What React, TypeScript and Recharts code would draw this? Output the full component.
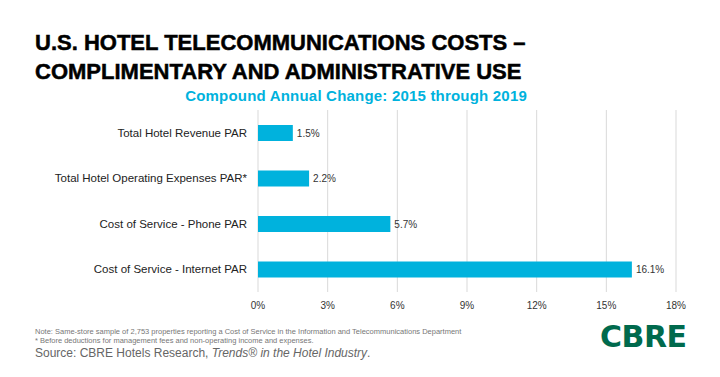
import { BarChart, Bar, XAxis, YAxis, CartesianGrid, LabelList } from "recharts";

const categories = [
  "Total Hotel Revenue PAR",
  "Total Hotel Operating Expenses PAR*",
  "Cost of Service - Phone PAR",
  "Cost  of Service - Internet PAR",
];
const changes = [1.5, 2.2, 5.7, 16.1];
const xTicks = [0, 3, 6, 9, 12, 15, 18];

const data = categories.map((name, i) => ({ name, value: changes[i] }));

const BAR_COLOR = "#00B2DD";
const font = "'Liberation Sans', Arial, sans-serif";

export default function App() {
  return (
    <div
      style={{
        position: "absolute",
        left: 0,
        top: 0,
        width: 720,
        height: 377,
        background: "#fff",
        fontFamily: font,
        overflow: "hidden",
      }}
    >
      <div
        style={{
          position: "absolute",
          left: 35,
          top: 28,
          fontSize: 22,
          fontWeight: 700,
          lineHeight: "29px",
          color: "#000",
          whiteSpace: "nowrap",
          letterSpacing: 0,
          WebkitTextStroke: "0.5px #000",
        }}
      >
        U.S. HOTEL TELECOMMUNICATIONS COSTS –<br />
        COMPLIMENTARY AND ADMINISTRATIVE USE
      </div>
      <div
        style={{
          position: "absolute",
          right: 193,
          top: 87,
          fontSize: 15,
          fontWeight: 700,
          color: "#00B2DD",
          whiteSpace: "nowrap",
          letterSpacing: 0.2,
        }}
      >
        Compound Annual Change: 2015 through 2019
      </div>

      <div style={{ position: "absolute", left: 0, top: 0 }}>
        <BarChart
          width={720}
          height={377}
          data={data}
          layout="vertical"
          margin={{ top: 110, right: 44, bottom: 63, left: 0 }}
        >
          <CartesianGrid horizontal={false} stroke="#D9D9D9" />
          <XAxis
            type="number"
            domain={[0, 18]}
            ticks={xTicks}
            tickFormatter={(v) => `${v}%`}
            axisLine={false}
            tickLine={false}
            height={22}
            tickMargin={4}
            tick={{ fontSize: 10, fill: "#333", fontFamily: font }}
          />
          <YAxis
            type="category"
            dataKey="name"
            width={258}
            axisLine={false}
            tickLine={false}
            tickMargin={5}
            tick={{ fontSize: 11.5, fill: "#222", fontFamily: font }}
          />
          <Bar dataKey="value" fill={BAR_COLOR} barSize={16} isAnimationActive={false}>
            <LabelList
              dataKey="value"
              position="right"
              offset={4}
              formatter={(v: number) => `${v.toFixed(1)}%`}
              style={{ fontSize: 10, fill: "#333", fontFamily: font }}
            />
          </Bar>
        </BarChart>
      </div>

      <div
        style={{
          position: "absolute",
          left: 35,
          top: 327,
          fontSize: 7.5,
          lineHeight: "9px",
          color: "#777",
          whiteSpace: "nowrap",
        }}
      >
        Note: Same-store sample of 2,753 properties reporting a Cost of Service in the Information and Telecommunications Department
        <br />* Before deductions for management fees and non-operating income and expenses.
      </div>
      <div
        style={{
          position: "absolute",
          left: 35,
          top: 346,
          fontSize: 12,
          color: "#666",
          whiteSpace: "nowrap",
        }}
      >
        Source: CBRE Hotels Research, <i>Trends® in the Hotel Industry</i>.
      </div>
      <div
        style={{
          position: "absolute",
          left: 600,
          top: 319,
          fontSize: 30,
          fontWeight: 700,
          color: "#006A4D",
          letterSpacing: -0.5,
          whiteSpace: "nowrap",
          fontFamily: "'DejaVu Sans', sans-serif",
        }}
      >
        CBRE
      </div>
    </div>
  );
}
